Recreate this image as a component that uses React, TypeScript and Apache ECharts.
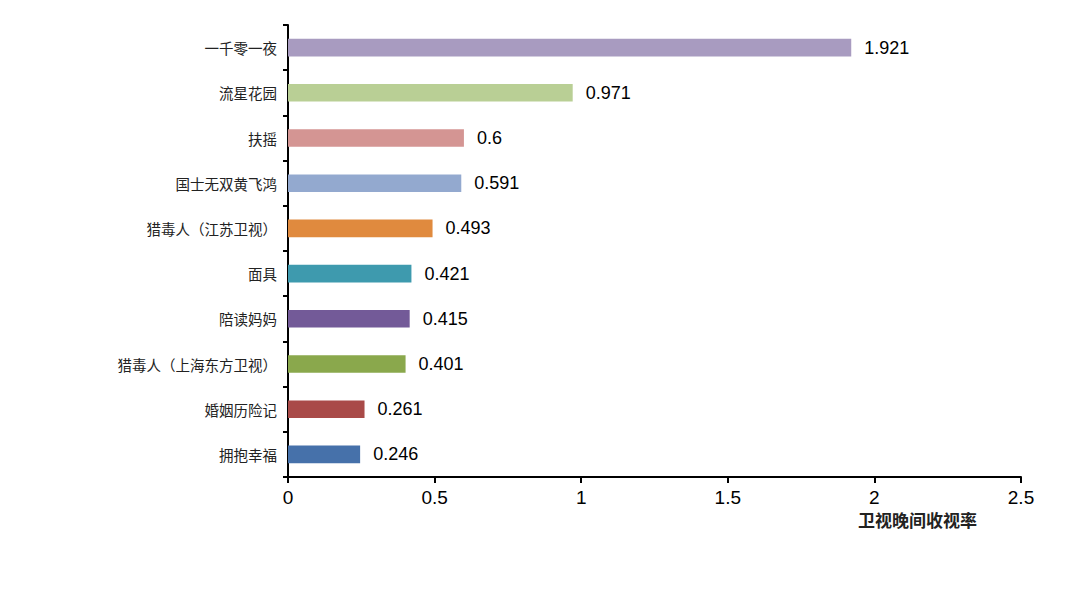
import React, { useEffect, useRef } from "react";
import * as echarts from "echarts";

const categories = [
  "一千零一夜",
  "流星花园",
  "扶摇",
  "国士无双黄飞鸿",
  "猎毒人（江苏卫视）",
  "面具",
  "陪读妈妈",
  "猎毒人（上海东方卫视）",
  "婚姻历险记",
  "拥抱幸福",
];
const values = [1.921, 0.971, 0.6, 0.591, 0.493, 0.421, 0.415, 0.401, 0.261, 0.246];
const barColors = [
  "#A89BC0",
  "#B9CF95",
  "#D49593",
  "#93A9CF",
  "#E08A3E",
  "#3E9AAE",
  "#735A98",
  "#8AA84C",
  "#A94A48",
  "#4671AA",
];
const xAxisName = "卫视晚间收视率";

export default function App() {
  const ref = useRef<HTMLDivElement>(null);
  useEffect(() => {
    if (!ref.current) return;
    const chart = echarts.init(ref.current, undefined, { renderer: "svg" });
    chart.setOption({
      animation: false,
      backgroundColor: "#ffffff",
      grid: { left: 288, top: 25, right: 59, bottom: 136, containLabel: false },
      xAxis: {
        type: "value",
        min: 0,
        max: 2.5,
        interval: 0.5,
        splitLine: { show: false },
        axisLine: { show: true, lineStyle: { color: "#000", width: 2 } },
        axisTick: { show: true, length: 6, lineStyle: { color: "#000", width: 2 } },
        axisLabel: {
          margin: 11,
          formatter: (v: number) => "{t|" + String(v) + "}",
          rich: {
            t: {
              color: "#000",
              fontSize: 19,
              fontFamily: "Liberation Sans",
            },
          },
        },
      },
      yAxis: {
        type: "category",
        data: categories,
        inverse: true,
        axisLine: { show: true, lineStyle: { color: "#000", width: 2 } },
        axisTick: { show: true, length: 5, lineStyle: { color: "#000", width: 2 } },
        axisLabel: {
          color: "#222",
          fontSize: 14.5,
          fontFamily: "Noto Sans CJK SC",
          margin: 11,
        },
      },
      series: [
        {
          type: "bar",
          data: values.map((v, i) => ({ value: v, itemStyle: { color: barColors[i] } })),
          barWidth: "39%",
          label: {
            show: true,
            position: "right",
            distance: 13,
            color: "#000",
            fontSize: 18,
            fontFamily: "Liberation Sans",
            formatter: (p: any) => String(p.value),
          },
        },
      ],
      graphic: [
        {
          type: "text",
          left: 858,
          top: 511,
          style: {
            text: xAxisName,
            fontSize: 17,
            fontWeight: "bold",
            fill: "#222",
            fontFamily: "Noto Sans CJK SC",
          },
        },
      ],
    });
    return () => chart.dispose();
  }, []);
  return <div ref={ref} style={{ width: 1080, height: 613, margin: -8 }} />;
}
